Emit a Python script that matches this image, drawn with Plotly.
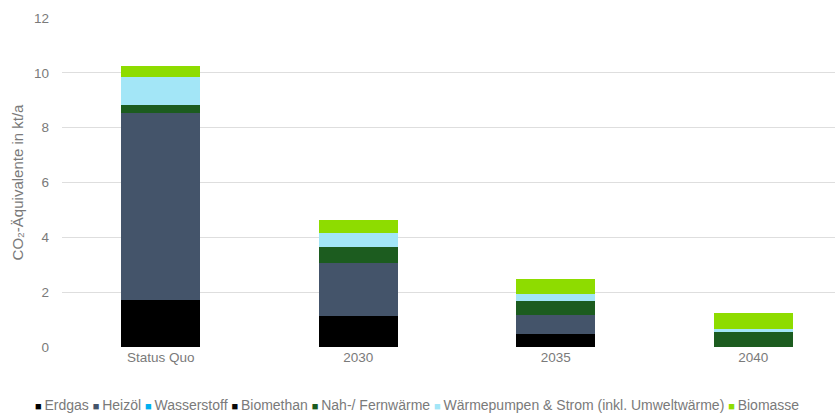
import plotly.graph_objects as go

# Emission scenarios (kt/a CO2-equivalents) per heat source
categories = ["Status Quo", "2030", "2035", "2040"]

erdgas = [1.70, 1.14, 0.47, 0.0]
heizoel = [6.83, 1.91, 0.70, 0.0]
wasserstoff = [0.0, 0.0, 0.0, 0.0]
biomethan = [0.0, 0.0, 0.0, 0.0]
nah_fernwaerme = [0.29, 0.61, 0.51, 0.55]
waermepumpen = [1.01, 0.49, 0.25, 0.11]
biomasse = [0.41, 0.48, 0.54, 0.59]

series = [
    ("Erdgas", erdgas, "#000000"),
    ("Heizöl", heizoel, "#44546a"),
    ("Wasserstoff", wasserstoff, "#00b0f0"),
    ("Biomethan", biomethan, "#0a0a0a"),
    ("Nah-/ Fernwärme", nah_fernwaerme, "#1c5c1f"),
    ("Wärmepumpen & Strom (inkl. Umweltwärme)", waermepumpen, "#a3e6f7"),
    ("Biomasse", biomasse, "#8edc00"),
]

y_ticks = [0, 2, 4, 6, 8, 10, 12]

FONT = "Liberation Sans"
GREY = "#7a7a7a"

fig = go.Figure()
for name, values, color in series:
    fig.add_trace(go.Bar(
        name=name,
        x=categories,
        y=values,
        marker=dict(color=color, line=dict(width=0)),
        width=0.4,
        showlegend=False,
    ))

# compact legend drawn as a single line of text with coloured squares
legend_parts = []
for name, _, color in series:
    legend_parts.append(f'<span style="color:{color};font-size:11px">■</span>\u2009{name}')
legend_text = " ".join(legend_parts)

fig.add_annotation(
    text=legend_text,
    xref="paper", yref="paper",
    x=0.459, y=-0.176,
    xanchor="center", yanchor="middle",
    showarrow=False,
    font=dict(family=FONT, size=14, color=GREY),
)

fig.update_layout(
    width=839, height=414,
    barmode="stack",
    plot_bgcolor="white",
    paper_bgcolor="white",
    margin=dict(l=62, r=4, t=18, b=67),
    font=dict(family=FONT, size=13, color=GREY),
    xaxis=dict(
        range=[-0.5, 3.414],
        showgrid=False,
        showline=False,
        ticks="",
        tickfont=dict(family=FONT, size=13.5, color=GREY),
    ),
    yaxis=dict(
        range=[0, 12],
        tickvals=y_ticks,
        ticktext=[str(v) for v in y_ticks],
        showgrid=True,
        gridcolor="#dedede",
        gridwidth=1,
        zeroline=False,
        showline=False,
        ticks="",
        ticklabelstandoff=12,
        tickfont=dict(family=FONT, size=13.5, color=GREY),
        title=dict(
            text="CO₂-Äquivalente in kt/a",
            font=dict(family=FONT, size=15, color=GREY),
            standoff=6,
        ),
    ),
)

fig.write_html("out.html")
